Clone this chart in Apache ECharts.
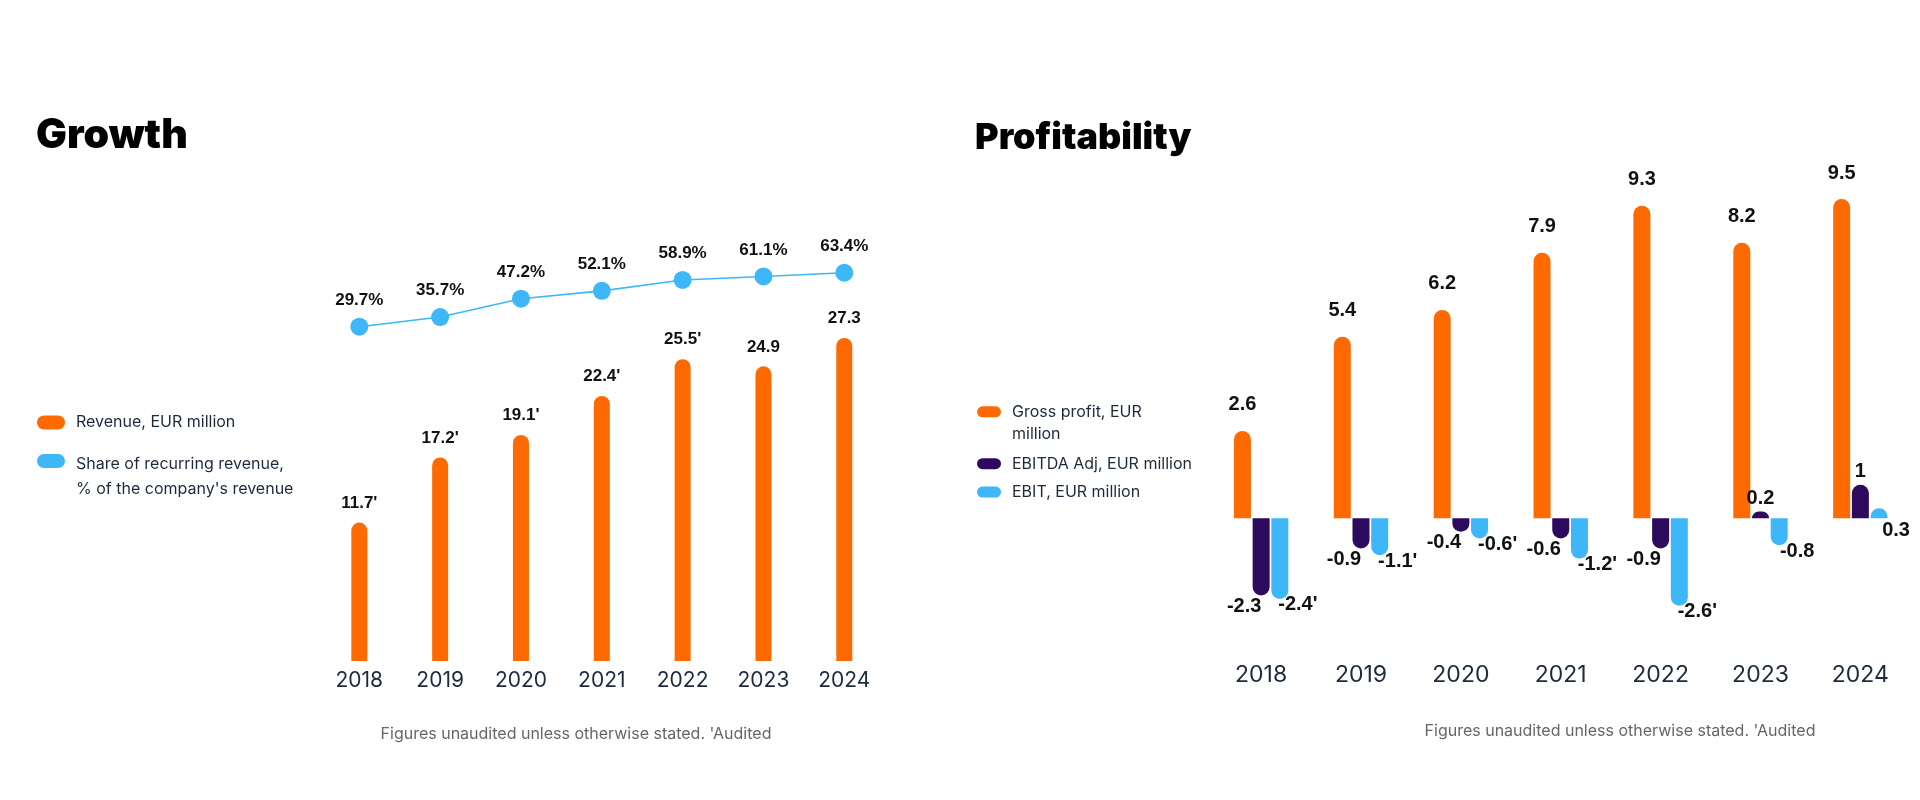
<!DOCTYPE html>
<html>
<head>
<meta charset="utf-8">
<script src="https://cdn.jsdelivr.net/npm/echarts@6/dist/echarts.min.js"></script>
<style>
html,body{margin:0;padding:0;background:#fff;}
#chart{width:1920px;height:800px;}
</style>
</head>
<body>
<div id="chart"></div>
<script>
// ---- data ----
const years = ['2018', '2019', '2020', '2021', '2022', '2023', '2024'];
const revenue = [11.7, 17.2, 19.1, 22.4, 25.5, 24.9, 27.3];
const revenueAudited = [true, true, true, true, true, false, false];
const recurringShare = [29.7, 35.7, 47.2, 52.1, 58.9, 61.1, 63.4];
const grossProfit = [2.6, 5.4, 6.2, 7.9, 9.3, 8.2, 9.5];
const ebitdaAdj = [-2.3, -0.9, -0.4, -0.6, -0.9, 0.2, 1];
const ebit = [-2.4, -1.1, -0.6, -1.2, -2.6, -0.8, 0.3];
const ebitAudited = [true, true, true, true, true, false, false];

const NAME_REV = 'Revenue, EUR million';
const NAME_SHARE = "Share of recurring revenue,\n% of the company's revenue";
const NAME_GP = 'Gross profit, EUR\nmillion';
const NAME_EBITDA = 'EBITDA Adj, EUR million';
const NAME_EBIT = 'EBIT, EUR million';
const FOOTNOTE = "Figures unaudited unless otherwise stated. 'Audited";

const ORANGE = '#ff6a00';
const BLUE = '#3db7f8';
const PURPLE = '#2d0a5e';
const TEXT = '#1d2a3b';

const pillL = 'path://M7,0H21A7,7 0 0 1 21,14H7A7,7 0 0 1 7,0Z';
const pillR = 'path://M5.5,0H18.5A5.5,5.5 0 0 1 18.5,11H5.5A5.5,5.5 0 0 1 5.5,0Z';

const valFontL = {fontFamily: '"Liberation Sans", Arial, sans-serif', fontWeight: 'bold', fontSize: 17, color: '#111'};
const valFontR = {fontFamily: '"Liberation Sans", Arial, sans-serif', fontWeight: 'bold', fontSize: 20, color: '#111'};

function tipRadius(v, r) { return v >= 0 ? [r, r, 0, 0] : [0, 0, r, r]; }

const chart = echarts.init(document.getElementById('chart'), null, {renderer: 'canvas'});

function legendItem(name, left, top, icon, w, h, fs, lh, padLH) {
  return {
    data: [name], left: left, top: top, orient: 'vertical', padding: 0,
    icon: icon, itemWidth: w, itemHeight: h, selectedMode: false,
    formatter: n => {
      const lines = n.split('\n').map(s => '{t|' + s + '}');
      return (lines.length > 1 ? '{pad| }\n' : '') + lines.join('\n');
    },
    textStyle: {
      color: TEXT,
      rich: {
        t: {fontFamily: 'Inter, "Noto Sans", sans-serif', fontSize: fs, lineHeight: lh, color: TEXT, padding: [0, 0, 0, 6]},
        pad: {fontSize: 1, lineHeight: padLH}
      }
    }
  };
}

const option = {
  animation: false,
  backgroundColor: '#fff',
  title: [
    {text: 'Growth', left: 36, top: 115, padding: 0,
      textStyle: {fontFamily: 'Inter, sans-serif', fontWeight: 900, fontSize: 41, color: '#000'}},
    {text: 'Profitability', left: 975, top: 120, padding: 0,
      textStyle: {fontFamily: 'Inter, sans-serif', fontWeight: 900, fontSize: 36, color: '#000'}},
    {text: FOOTNOTE, left: 576, top: 726, padding: 0, textAlign: 'center',
      textStyle: {fontFamily: 'Inter, sans-serif', fontWeight: 'normal', fontSize: 16, color: '#666'}},
    {text: FOOTNOTE, left: 1620, top: 723, padding: 0, textAlign: 'center',
      textStyle: {fontFamily: 'Inter, sans-serif', fontWeight: 'normal', fontSize: 16, color: '#666'}}
  ],
  legend: [
    legendItem(NAME_REV, 37, 414.5, pillL, 28, 14, 16, 20, 0),
    legendItem(NAME_SHARE, 37, 435.5, pillL, 28, 14, 16, 25, 31),
    legendItem(NAME_GP, 977, 389.3, pillR, 24, 11, 16, 22, 22),
    legendItem(NAME_EBITDA, 977, 455.7, pillR, 24, 11, 16, 22, 0),
    legendItem(NAME_EBIT, 977, 484, pillR, 24, 11, 16, 22, 0)
  ],
  grid: [
    {left: 318.9, width: 565.8, top: 306, height: 355},
    {left: 318.9, width: 565.8, top: 214.2, height: 160},
    {left: 1211.2, width: 699.1, top: 182.3, height: 470.4}
  ],
  xAxis: [
    {type: 'category', gridIndex: 0, data: years,
      axisLine: {show: false}, axisTick: {show: false},
      axisLabel: {margin: 9, fontFamily: 'Inter, sans-serif', fontSize: 21, color: TEXT}},
    {type: 'category', gridIndex: 1, data: years, show: false},
    {type: 'category', gridIndex: 2, data: years,
      axisLine: {show: false}, axisTick: {show: false},
      axisLabel: {margin: 11, fontFamily: 'Inter, sans-serif', fontSize: 23, color: TEXT}}
  ],
  yAxis: [
    {type: 'value', gridIndex: 0, min: 0, max: 30, show: false, splitLine: {show: false}},
    {type: 'value', gridIndex: 1, min: 0, max: 100, show: false, splitLine: {show: false}},
    {type: 'value', gridIndex: 2, min: -4, max: 10, show: false, splitLine: {show: false}}
  ],
  series: [
    {
      name: NAME_REV, type: 'bar', xAxisIndex: 0, yAxisIndex: 0, barWidth: 16,
      itemStyle: {color: ORANGE, borderRadius: [8, 8, 0, 0]},
      label: Object.assign({show: true, position: 'top', distance: 11,
        formatter: p => p.value + (revenueAudited[p.dataIndex] ? "'" : '')}, valFontL),
      data: revenue
    },
    {
      name: NAME_SHARE, type: 'line', xAxisIndex: 1, yAxisIndex: 1,
      symbol: 'circle', symbolSize: 18,
      itemStyle: {color: BLUE}, lineStyle: {color: BLUE, width: 1.6},
      label: Object.assign({show: true, position: 'top', distance: 9,
        formatter: p => p.value + '%'}, valFontL),
      data: recurringShare
    },
    {
      name: NAME_GP, type: 'bar', xAxisIndex: 2, yAxisIndex: 2, barWidth: 17, barGap: '10%',
      itemStyle: {color: ORANGE},
      label: Object.assign({show: true, position: 'top', distance: 16}, valFontR),
      data: grossProfit.map(v => ({value: v, itemStyle: {borderRadius: tipRadius(v, 8.5)}}))
    },
    {
      name: NAME_EBITDA, type: 'bar', xAxisIndex: 2, yAxisIndex: 2, barWidth: 17, barGap: '10%',
      itemStyle: {color: PURPLE},
      label: Object.assign({show: true}, valFontR),
      data: ebitdaAdj.map(v => ({
        value: v,
        itemStyle: {borderRadius: tipRadius(v, 8.5)},
        label: v < 0 ? {position: 'bottom', distance: 1, offset: [-17, 0]} : {position: 'top', distance: 3, offset: [0, 0]}
      }))
    },
    {
      name: NAME_EBIT, type: 'bar', xAxisIndex: 2, yAxisIndex: 2, barWidth: 17, barGap: '10%',
      itemStyle: {color: BLUE},
      label: Object.assign({show: true, formatter: p => p.value + (ebitAudited[p.dataIndex] ? "'" : '')}, valFontR),
      data: ebit.map(v => ({
        value: v,
        itemStyle: {borderRadius: tipRadius(v, 8.5)},
        label: v < 0 ? {position: 'bottom', distance: -4, offset: [18, 0]} : {position: 'bottom', distance: 2, offset: [17, 0]}
      }))
    }
  ]
};
chart.setOption(option);
</script>
</body>
</html>
